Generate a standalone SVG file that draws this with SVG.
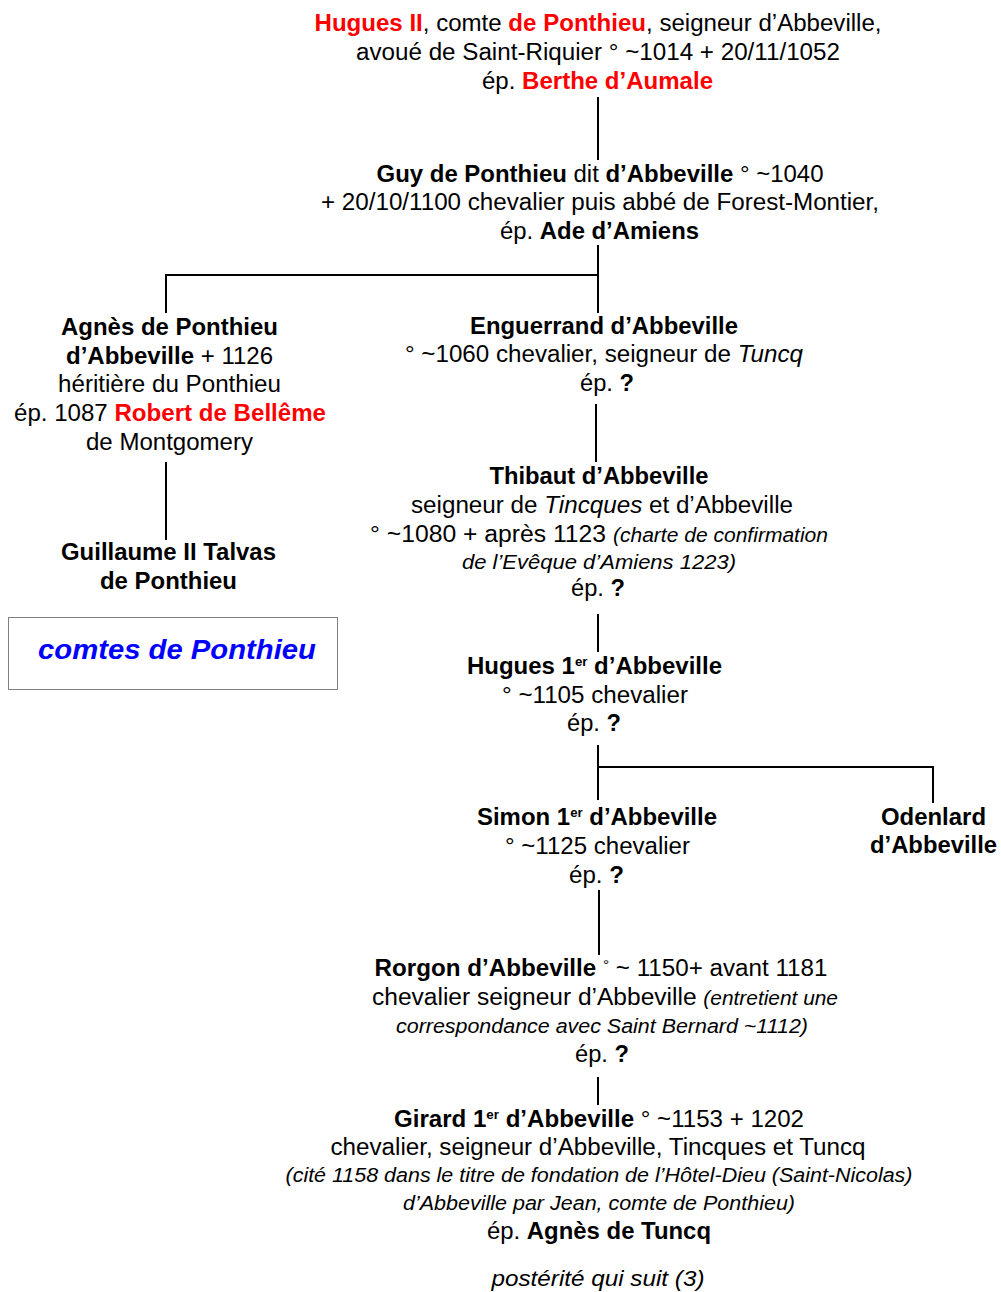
<svg xmlns="http://www.w3.org/2000/svg" width="1001" height="1292" viewBox="0 0 1001 1292">
<style>
text{font-family:"Liberation Sans",Arial,sans-serif;font-size:23.5px;fill:#000;text-anchor:middle}
.b{font-weight:bold}
.r{fill:#ff0000;font-weight:bold}
.i{font-style:italic}
.n{font-size:20px;font-style:italic}
.sup{font-size:13px;font-weight:bold}
.ln{stroke:#000;stroke-width:2;fill:none}
</style>
<rect width="1001" height="1292" fill="#fff"/>
<g id="connectors">
<path class="ln" d="M598 97V160"/>
<path class="ln" d="M598 245V313M166 275H598M166 274V313"/>
<path class="ln" d="M596 404V462"/>
<path class="ln" d="M166 462V540"/>
<path class="ln" d="M598 614V652"/>
<path class="ln" d="M598 745V800M598 767H933V803"/>
<path class="ln" d="M599 890V955"/>
<path class="ln" d="M598 1077V1105"/>
</g>
<g id="hugues2">
<text x="598" y="31" textLength="567" lengthAdjust="spacingAndGlyphs"><tspan class="r">Hugues II</tspan>, comte <tspan class="r">de Ponthieu</tspan>, seigneur d’Abbeville,</text>
<text x="598" y="60" textLength="484" lengthAdjust="spacingAndGlyphs">avoué de Saint-Riquier ° ~1014 + 20/11/1052</text>
<text x="597.5" y="89" textLength="231" lengthAdjust="spacingAndGlyphs">ép. <tspan class="r">Berthe d’Aumale</tspan></text>
</g>
<g id="guy">
<text x="600" y="182" textLength="447" lengthAdjust="spacingAndGlyphs"><tspan class="b">Guy de Ponthieu</tspan> dit <tspan class="b">d’Abbeville</tspan> ° ~1040</text>
<text x="600" y="210" textLength="558" lengthAdjust="spacingAndGlyphs">+ 20/10/1100 chevalier puis abbé de Forest-Montier,</text>
<text x="599.5" y="239" textLength="199" lengthAdjust="spacingAndGlyphs">ép. <tspan class="b">Ade d’Amiens</tspan></text>
</g>
<g id="agnes">
<text x="169.5" y="335" class="b" textLength="217" lengthAdjust="spacingAndGlyphs">Agnès de Ponthieu</text>
<text x="169.5" y="364" textLength="207" lengthAdjust="spacingAndGlyphs"><tspan class="b">d’Abbeville</tspan> + 1126</text>
<text x="169.5" y="392" textLength="223" lengthAdjust="spacingAndGlyphs">héritière du Ponthieu</text>
<text x="170" y="421" textLength="312" lengthAdjust="spacingAndGlyphs">ép. 1087 <tspan class="r">Robert de Bellême</tspan></text>
<text x="169.5" y="450" textLength="167" lengthAdjust="spacingAndGlyphs">de Montgomery</text>
</g>
<g id="guillaume">
<text x="168.5" y="560" class="b" textLength="215" lengthAdjust="spacingAndGlyphs">Guillaume II Talvas</text>
<text x="168.5" y="589" class="b" textLength="137" lengthAdjust="spacingAndGlyphs">de Ponthieu</text>
</g>
<g id="comtes">
<rect x="8.5" y="617.5" width="329" height="72" fill="#fff" stroke="#808080" stroke-width="1"/>
<text x="177" y="659" style="font-size:28px;font-weight:bold;font-style:italic;fill:#0000ff" textLength="278" lengthAdjust="spacingAndGlyphs">comtes de Ponthieu</text>
</g>
<g id="enguerrand">
<text x="604" y="334" class="b" textLength="268" lengthAdjust="spacingAndGlyphs">Enguerrand d’Abbeville</text>
<text x="604" y="362" textLength="398" lengthAdjust="spacingAndGlyphs">° ~1060 chevalier, seigneur de <tspan class="i">Tuncq</tspan></text>
<text x="607" y="391" textLength="54" lengthAdjust="spacingAndGlyphs">ép. <tspan class="b">?</tspan></text>
</g>
<g id="thibaut">
<text x="599" y="484" class="b" textLength="219" lengthAdjust="spacingAndGlyphs">Thibaut d’Abbeville</text>
<text x="602" y="513" textLength="382" lengthAdjust="spacingAndGlyphs">seigneur de <tspan class="i">Tincques</tspan> et d’Abbeville</text>
<text x="599" y="542" textLength="458" lengthAdjust="spacingAndGlyphs">° ~1080 + après 1123 <tspan class="n">(charte de confirmation</tspan></text>
<text x="599" y="569" class="n" textLength="274" lengthAdjust="spacingAndGlyphs">de l’Evêque d’Amiens 1223)</text>
<text x="598" y="596" textLength="54" lengthAdjust="spacingAndGlyphs">ép. <tspan class="b">?</tspan></text>
</g>
<g id="hugues1">
<text x="594.5" y="674" class="b" textLength="255" lengthAdjust="spacingAndGlyphs">Hugues 1<tspan class="sup" dy="-8">er</tspan><tspan dy="8"> d’Abbeville</tspan></text>
<text x="595" y="703" textLength="186" lengthAdjust="spacingAndGlyphs">° ~1105 chevalier</text>
<text x="594" y="731" textLength="54" lengthAdjust="spacingAndGlyphs">ép. <tspan class="b">?</tspan></text>
</g>
<g id="simon">
<text x="597" y="825" class="b" textLength="240" lengthAdjust="spacingAndGlyphs">Simon 1<tspan class="sup" dy="-8">er</tspan><tspan dy="8"> d’Abbeville</tspan></text>
<text x="597.5" y="854" textLength="185" lengthAdjust="spacingAndGlyphs">° ~1125 chevalier</text>
<text x="596.5" y="883" textLength="55" lengthAdjust="spacingAndGlyphs">ép. <tspan class="b">?</tspan></text>
</g>
<g id="odenlard">
<text x="933.5" y="825" class="b" textLength="105" lengthAdjust="spacingAndGlyphs">Odenlard</text>
<text x="933.5" y="853" class="b" textLength="127" lengthAdjust="spacingAndGlyphs">d’Abbeville</text>
</g>
<g id="rorgon">
<text x="601" y="976" textLength="453" lengthAdjust="spacingAndGlyphs"><tspan class="b">Rorgon d’Abbeville</tspan> <tspan font-size="15" dy="-6">°</tspan><tspan dy="6"> ~ 1150+ avant 1181</tspan></text>
<text x="605" y="1005" textLength="466" lengthAdjust="spacingAndGlyphs">chevalier seigneur d’Abbeville <tspan class="n">(entretient une</tspan></text>
<text x="602" y="1033" class="n" textLength="412" lengthAdjust="spacingAndGlyphs">correspondance avec Saint Bernard ~1112)</text>
<text x="602" y="1062" textLength="54" lengthAdjust="spacingAndGlyphs">ép. <tspan class="b">?</tspan></text>
</g>
<g id="girard">
<text x="599" y="1127" textLength="410" lengthAdjust="spacingAndGlyphs"><tspan class="b">Girard 1</tspan><tspan class="sup" dy="-8">er</tspan><tspan class="b" dy="8"> d’Abbeville</tspan> ° ~1153 + 1202</text>
<text x="598" y="1155" textLength="535" lengthAdjust="spacingAndGlyphs">chevalier, seigneur d’Abbeville, Tincques et Tuncq</text>
<text x="599" y="1182" class="n" textLength="627" lengthAdjust="spacingAndGlyphs">(cité 1158 dans le titre de fondation de l’Hôtel-Dieu (Saint-Nicolas)</text>
<text x="599" y="1210" class="n" textLength="392" lengthAdjust="spacingAndGlyphs">d’Abbeville par Jean, comte de Ponthieu)</text>
<text x="599" y="1239" textLength="224" lengthAdjust="spacingAndGlyphs">ép. <tspan class="b">Agnès de Tuncq</tspan></text>
</g>
<g id="posterite">
<text x="598" y="1286" class="i" style="font-size:22px" textLength="213" lengthAdjust="spacingAndGlyphs">postérité qui suit (3)</text>
</g>
</svg>
